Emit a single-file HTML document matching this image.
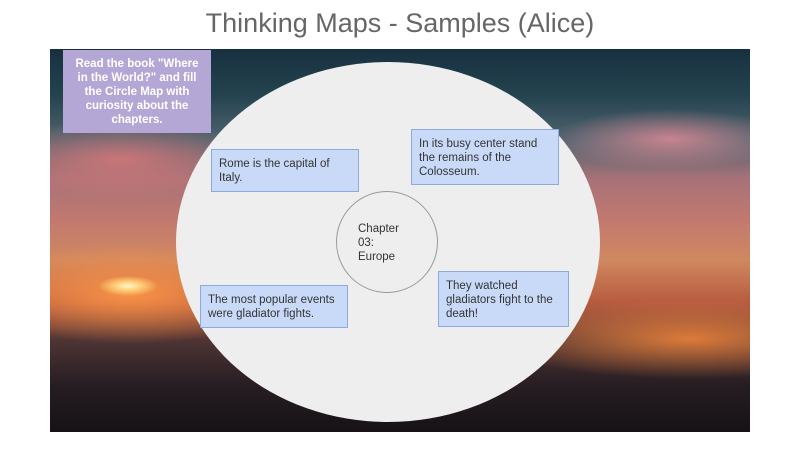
<!DOCTYPE html>
<html><head><meta charset="utf-8"><style>
body{margin:0;width:800px;height:450px;background:#fff;position:relative;overflow:hidden;font-family:"Liberation Sans",sans-serif}
.t{position:absolute;left:0;width:800px;top:8px;text-align:center;font-size:27px;color:#666}
.bg{position:absolute;left:50px;top:49px;width:700px;height:383px;overflow:hidden;
background:
radial-gradient(ellipse 30px 10px at 78px 237px,#fff6d0 0,#ffd27a 40%,rgba(255,160,80,0) 100%),
radial-gradient(ellipse 160px 50px at 80px 245px,rgba(255,150,70,.9),rgba(255,120,60,0)),
radial-gradient(ellipse 200px 40px at 640px 290px,rgba(255,140,60,.8),rgba(255,120,60,0)),
radial-gradient(ellipse 120px 30px at 620px 90px,rgba(230,140,150,.8),rgba(230,140,150,0)),
radial-gradient(ellipse 140px 40px at 70px 110px,rgba(220,120,120,.8),rgba(220,120,120,0)),
linear-gradient(180deg,#17303f 0%,#24434f 12%,#4f6470 24%,#a87278 34%,#c07870 44%,#d08860 55%,#b85c40 66%,#4f3434 76%,#261d22 88%,#161215 100%);}
.el{position:absolute;left:176px;top:62px;width:424px;height:360px;border-radius:50%;background:#eeeeee}
.p{position:absolute;left:63px;top:50px;width:148px;height:83px;background:#b4a7d6;color:#fff;font-weight:bold;font-size:11.5px;line-height:14px;text-align:center;box-sizing:border-box;padding:7px 10px 0}
.b{position:absolute;background:#c9daf8;border:1px solid #8eaadb;box-sizing:border-box;font-size:11.5px;line-height:14px;color:#333;padding:7px 7px 0}
.c{position:absolute;left:336px;top:191px;width:102px;height:102px;border-radius:50%;border:1px solid #999;box-sizing:border-box;font-size:11.5px;line-height:14px;color:#333;padding:30px 0 0 21px}
</style></head><body>
<div class="t">Thinking Maps - Samples (Alice)</div>
<div class="bg"></div>
<div class="el"></div>
<div class="p">Read the book "Where<br>in the World?" and fill<br>the Circle Map with<br>curiosity about the<br>chapters.</div>
<div class="b" style="left:211px;top:149px;width:148px;height:43px">Rome is the capital of Italy.</div>
<div class="b" style="left:411px;top:129px;width:148px;height:56px">In its busy center stand the remains of the Colosseum.</div>
<div class="b" style="left:200px;top:285px;width:148px;height:43px">The most popular events were gladiator fights.</div>
<div class="b" style="left:438px;top:271px;width:131px;height:56px">They watched gladiators fight to the death!</div>
<div class="c">Chapter<br>03:<br>Europe</div>
</body></html>
